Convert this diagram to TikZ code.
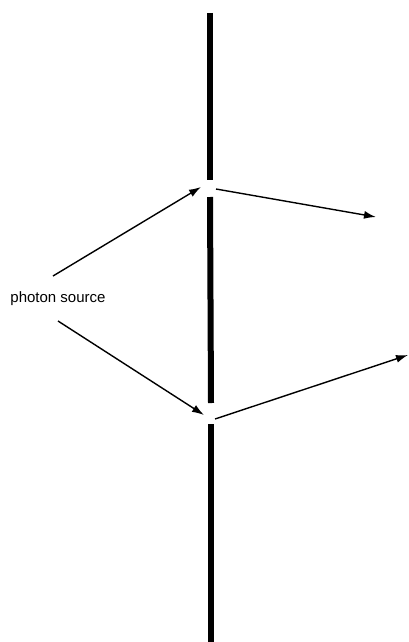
\documentclass[tikz,border=0pt]{standalone}
\usepackage{fontspec}
\setmainfont{Liberation Sans}
\usetikzlibrary{positioning,arrows.meta}

\begin{document}
\begin{tikzpicture}[>={Latex[length=12pt,width=8pt]},x=1pt,y=-1pt,ray/.style={->,line width=1.4pt},wall/.style={line width=6pt}]
        \useasboundingbox (0,0) rectangle (408,642);
        % the wall with its two slits
        \coordinate (top) at (210,13);
        \coordinate (slitAtop) at (210,180);
        \coordinate (slitAbot) at (210,197);
        \coordinate (slitBtop) at (211,403);
        \coordinate (slitBbot) at (211,424);
        \coordinate (bottom) at (211,642);
        \draw[wall] (top) -- (slitAtop);
        \draw[wall] (slitAbot) -- (slitBtop);
        \draw[wall] (slitBbot) -- (bottom);
        % source and rays
        \node[font=\fontsize{15}{17}\selectfont,inner sep=0pt] (source) at (58,299) {photon source};
        \coordinate (inA) at (53,276);
        \coordinate (inB) at (58,321);
        \coordinate (hitA) at (201,187);
        \coordinate (hitB) at (204,415);
        \coordinate (outA) at (216,189);
        \coordinate (outB) at (215,419);
        \coordinate (endA) at (376,217);
        \coordinate (endB) at (408,355);
        \draw[ray] (inA) -- (hitA);
        \draw[ray] (inB) -- (hitB);
        \draw[ray] (outA) -- (endA);
        \draw[ray] (outB) -- (endB);
    \end{tikzpicture}
\end{document}
